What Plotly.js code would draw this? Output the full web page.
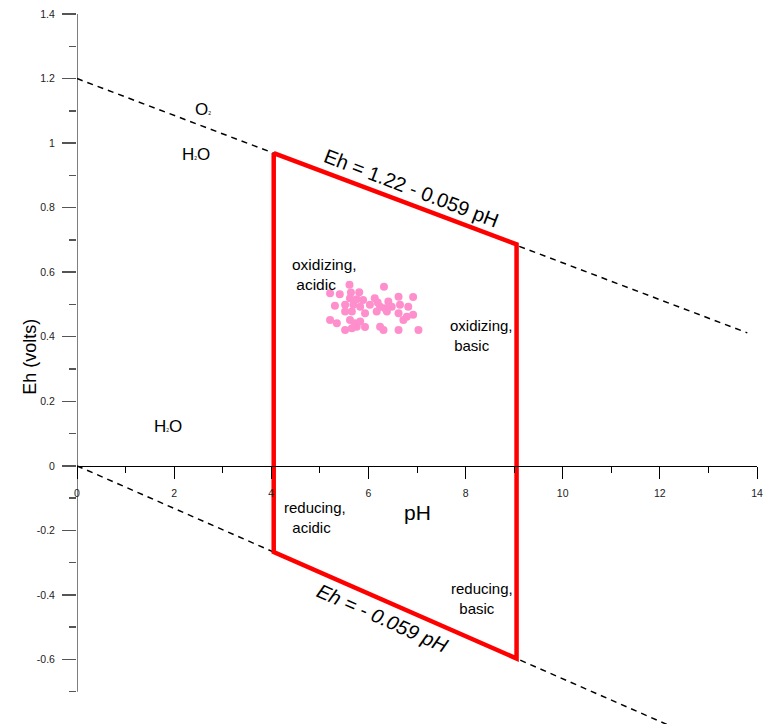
<!DOCTYPE html>
<html>
<head>
<meta charset="utf-8">
<script src="https://cdn.plot.ly/plotly-3.0.1.min.js"></script>
<style>html,body{margin:0;padding:0;background:#fff;}#chart{width:764px;height:727px;}</style>
</head>
<body>
<div id="chart"></div>
<script>
// ---- data ----
const upperLinePH = [0, 13.8];
const upperLineEh = [1.2, 0.412];
const lowerLinePH = [0, 12.2];
const lowerLineEh = [0, -0.805];

const boxPH = [4.05, 9.05, 9.05, 4.05, 4.05];
const boxEh = [0.969, 0.686, -0.597, -0.267, 0.969];

const samplePH = [5.61, 6.32, 5.21, 5.41, 5.64, 5.81, 5.62, 5.76, 5.89, 6.13, 6.19, 6.41, 6.62, 6.92,
  5.31, 5.52, 5.69, 5.83, 6.03, 6.24, 6.34, 6.48, 6.65, 6.82,
  5.52, 5.66, 5.93, 6.17, 6.38, 6.62, 6.79, 6.92,
  5.21, 5.35, 5.62, 5.72, 5.83, 5.52, 5.66, 5.76, 5.93, 6.24, 6.31, 6.62, 7.03, 6.72];
const sampleEh = [0.561, 0.555, 0.535, 0.532, 0.537, 0.538, 0.519, 0.516, 0.514, 0.519, 0.506, 0.509, 0.524, 0.523,
  0.496, 0.499, 0.499, 0.493, 0.499, 0.493, 0.488, 0.493, 0.499, 0.493,
  0.478, 0.478, 0.473, 0.478, 0.478, 0.473, 0.462, 0.468,
  0.452, 0.442, 0.452, 0.442, 0.447, 0.421, 0.426, 0.431, 0.430, 0.431, 0.421, 0.421, 0.421, 0.452];

const xTickVals = [0, 2, 4, 6, 8, 10, 12, 14];
const xTickText = ['0', '2', '4', '6', '8', '10', '12', '14'];
const xMinorVals = [1, 3, 5, 7, 9, 11, 13];
const yTickVals = [-0.6, -0.4, -0.2, 0, 0.2, 0.4, 0.6, 0.8, 1, 1.2, 1.4];
const yTickText = ['-0.6', '-0.4', '-0.2', '0', '0.2', '0.4', '0.6', '0.8', '1', '1.2', '1.4'];
const yMinorVals = [-0.7, -0.5, -0.3, -0.1, 0.1, 0.3, 0.5, 0.7, 0.9, 1.1, 1.3];
const yAxisSpan = [-0.7, 1.4];
const xRange = [0, 14];
const yRange = [-0.8, 1.4];

const sub2 = "<span style='font-size:5px'>2</span>";
const FONT = 'Liberation Sans, Arial, sans-serif';

const traces = [
  {x: upperLinePH, y: upperLineEh, mode: 'lines', line: {color: '#000', width: 1.5, dash: '6px,5px'}, hoverinfo: 'skip'},
  {x: lowerLinePH, y: lowerLineEh, mode: 'lines', line: {color: '#000', width: 1.5, dash: '6px,5px'}, hoverinfo: 'skip'},
  {x: boxPH, y: boxEh, mode: 'lines', line: {color: '#ff0000', width: 4.5}, hoverinfo: 'skip'},
  {x: samplePH, y: sampleEh, mode: 'markers', marker: {color: '#ff8fcc', size: 8}}
];

function ann(x, y, text, size, extra) {
  return Object.assign({x: x, y: y, xref: 'x', yref: 'y', text: text, showarrow: false,
    font: {family: FONT, size: size, color: '#000'}}, extra || {});
}

const annotations = [
  ann(2.59, 1.103, 'O' + sub2, 17),
  ann(2.45, 0.966, 'H' + sub2 + 'O', 17),
  ann(1.87, 0.121, 'H' + sub2 + 'O', 17),
  ann(6.88, 0.862, 'Eh = 1.22 - 0.059 pH', 20, {textangle: 21}),
  ann(6.28, -0.471, '<i>Eh = - 0.059 pH</i>', 20, {textangle: 24}),
  ann(5.10, 0.592, 'oxidizing,<br>\u00a0acidic', 15.5, {align: 'left'}),
  ann(8.32, 0.403, 'oxidizing,<br>\u00a0basic', 15, {align: 'left'}),
  ann(4.90, -0.161, 'reducing,<br>\u00a0\u00a0acidic', 15, {align: 'left'}),
  ann(8.34, -0.412, 'reducing,<br>\u00a0\u00a0basic', 15, {align: 'left'}),
  ann(7.02, -0.146, 'pH', 21),
  {x: -0.0868, y: 0.338, xref: 'paper', yref: 'y', text: 'Eh (volts)', showarrow: false, textangle: -90,
    font: {family: FONT, size: 18, color: '#000'}}
];

const layout = {
  width: 764, height: 727,
  margin: {l: 77, r: 7, t: 14, b: 3, pad: 0},
  paper_bgcolor: '#fff', plot_bgcolor: '#fff',
  showlegend: false,
  font: {family: FONT},
  xaxis: {
    range: xRange, anchor: 'free', position: (0 - yRange[0]) / (yRange[1] - yRange[0]),
    showline: true, linecolor: '#000', linewidth: 1,
    showgrid: false, zeroline: false,
    ticks: 'outside', ticklen: 12, tickcolor: '#000', tickwidth: 1,
    ticklabelstandoff: 6,
    tickmode: 'array', tickvals: xTickVals, ticktext: xTickText,
    minor: {tickmode: 'array', tickvals: xMinorVals, ticklen: 6, tickcolor: '#000', ticks: 'outside', showgrid: false},
    tickfont: {family: FONT, size: 10.5, color: '#222'}
  },
  yaxis: {
    range: yRange, showline: false, showgrid: false, zeroline: false,
    ticks: 'outside', ticklen: 14, tickcolor: '#555', tickwidth: 1.5,
    ticklabelstandoff: 5,
    tickmode: 'array', tickvals: yTickVals, ticktext: yTickText,
    minor: {tickmode: 'array', tickvals: yMinorVals, ticklen: 7, tickcolor: '#555', tickwidth: 1.5, ticks: 'outside', showgrid: false},
    tickfont: {family: FONT, size: 10.5, color: '#222'}
  },
  shapes: [
    {type: 'line', xref: 'x', yref: 'y', x0: xRange[0], x1: xRange[0], y0: yAxisSpan[0], y1: yAxisSpan[1],
     line: {color: '#555', width: 1.5}, layer: 'below'}
  ],
  annotations: annotations
};

Plotly.newPlot('chart', traces, layout, {displayModeBar: false, staticPlot: true});
</script>
</body>
</html>
